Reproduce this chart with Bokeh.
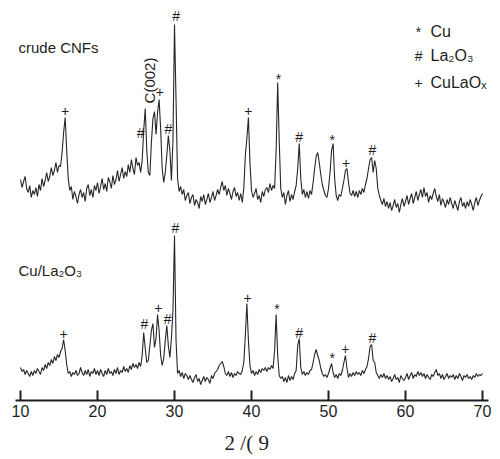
import numpy as np
from bokeh.plotting import figure
from bokeh.models import Range1d, Label, FixedTicker, ColumnDataSource
from bokeh.core.properties import value
from bokeh.embed import file_html
from bokeh.resources import INLINE

# 2-theta grid (degrees), 0.2 deg step from 10 to 70
theta_start = 10.0
theta_step = 0.2

# crude CNFs pattern (a.u.), one row = 2 degrees
crude_cnfs = [
    221, 213, 219, 224, 212, 208, 215, 203, 210, 206,
    213, 204, 216, 210, 222, 214, 220, 228, 219, 224,
    233, 225, 230, 238, 228, 235, 234, 248, 268, 283,
    250, 222, 210, 214, 201, 209, 204, 197, 206, 211,
    203, 208, 199, 212, 216, 205, 211, 203, 215, 210,
    218, 207, 214, 222, 211, 217, 209, 223, 219, 212,
    225, 216, 221, 230, 219, 226, 233, 222, 229, 224,
    236, 228, 241, 232, 226, 243, 235, 238, 228, 240,
    270, 292, 250, 228, 225, 258, 282, 289, 266, 288,
    301, 272, 232, 218, 228, 245, 265, 250, 220, 260,
    376, 300, 222, 209, 214, 206, 211, 200, 205, 208,
    197, 203, 206, 195, 201, 198, 192, 204, 199, 206,
    196, 201, 207, 198, 203, 209, 200, 205, 211, 206,
    213, 219, 210, 215, 205, 212, 207, 201, 209, 213,
    204, 208, 200, 207, 198, 212, 245, 262, 283, 238,
    210, 203, 207, 212, 201, 205, 198, 209, 204, 211,
    213, 208, 217, 210, 215, 212, 250, 318, 260, 212,
    203, 208, 196, 205, 210, 199, 206, 201, 209, 215,
    232, 257, 222, 206, 211, 203, 209, 202, 210, 206,
    218, 232, 244, 248, 238, 226, 216, 210, 205, 203,
    212, 228, 250, 257, 222, 205, 200, 206, 204, 212,
    220, 230, 232, 218, 207, 205, 210, 204, 209, 203,
    210, 206, 212, 208, 216, 222, 232, 241, 243, 228,
    240, 232, 212, 205, 200, 196, 202, 194, 199, 192,
    198, 190, 195, 201, 193, 197, 188, 196, 202, 194,
    199, 205, 196, 202, 207, 197, 203, 209, 200, 206,
    211, 203, 213, 204, 208, 198, 205, 201, 207, 212,
    204, 199, 206, 195, 202, 198, 193, 201, 196, 203,
    197, 192, 200, 195, 190, 199, 203, 194, 198, 192,
    199, 194, 201, 196, 190, 198, 203, 195, 200, 204,
    207,
]

# Cu/La2O3 pattern (a.u.)
cu_la2o3 = [
    33, 29, 31, 26, 30, 27, 24, 29, 25, 30,
    27, 32, 29, 26, 33, 30, 36, 32, 38, 35,
    41, 37, 44, 40, 46, 43, 49, 52, 61, 50,
    36, 27, 29, 24, 28, 26, 30, 25, 27, 33,
    28, 25, 30, 26, 31, 24, 29, 27, 32, 26,
    30, 25, 31, 27, 24, 30, 26, 32, 27, 29,
    25, 31, 27, 33, 26, 30, 28, 34, 29, 32,
    28, 35, 31, 37, 33, 36, 32, 38, 34, 45,
    68, 52, 38, 40, 55, 70, 77, 53, 62, 86,
    70, 45, 35, 42, 60, 75, 55, 43, 62, 90,
    165, 60, 27, 30, 24, 28, 22, 27, 25, 21,
    25, 21, 18, 23, 26, 19, 22, 16, 20, 24,
    19, 23, 21, 17, 25, 22, 27, 29, 31, 35,
    37, 39, 34, 27, 25, 29, 24, 28, 23, 27,
    25, 29, 27, 26, 30, 38, 65, 97, 60, 35,
    27, 30, 25, 29, 26, 31, 28, 32, 30, 33,
    29, 33, 31, 35, 32, 50, 86, 45, 25, 22,
    24, 19, 23, 18, 25, 20, 24, 21, 27, 30,
    55, 62, 33, 26, 29, 25, 28, 26, 30, 31,
    38, 46, 51, 45, 40, 32, 27, 24, 26, 23,
    27, 32, 37, 28, 23, 26, 22, 27, 25, 30,
    38, 45, 32, 23, 27, 24, 28, 25, 29, 26,
    28, 25, 30, 27, 31, 34, 42, 54, 56, 40,
    38, 28, 25, 22, 26, 23, 27, 22, 25, 21,
    24, 19, 22, 26, 21, 23, 18, 25, 22, 20,
    23, 27, 21, 25, 28, 22, 26, 24, 29, 25,
    28, 24, 27, 22, 26, 23, 21, 26, 24, 28,
    31, 25, 27, 22, 26, 21, 24, 27, 22, 25,
    23, 26, 21, 25, 22, 27, 24, 20, 25, 23,
    26, 22, 24, 21, 25, 23, 27, 24, 26, 25,
    27,
]

two_theta = np.round(theta_start + theta_step * np.arange(len(crude_cnfs)), 1)

# peak assignment marks (2theta, label height, symbol)
crude_mark_x = [15.8, 25.6, 28.1, 29.2, 30.2, 39.6, 43.5, 46.2, 50.5, 52.3, 55.7]
crude_mark_y = [290, 268, 309, 272, 385, 290, 322, 264, 261, 238, 251]
crude_mark_s = ["+", "#", "+", "#", "#", "+", "*", "#", "*", "+", "#"]

cu_mark_x = [15.6, 26.1, 27.9, 29.1, 30.1, 39.5, 43.3, 46.2, 50.5, 52.2, 55.7]
cu_mark_y = [67, 77, 93, 82, 173, 103, 92, 68, 43, 52, 63]
cu_mark_s = ["+", "#", "+", "#", "#", "+", "*", "#", "*", "+", "#"]

x_ticks = [10, 20, 30, 40, 50, 60, 70]

legend_symbols = ["*", "#", "+"]
legend_texts = ["Cu", "La\u2082O\u2083", "CuLaO\u2093"]
legend_y = [369, 345, 318]

INK = "#1e1e1e"
FONT = "Liberation Sans"

p = figure(width=500, height=459,
           x_range=Range1d(9.35, 70.78), y_range=Range1d(0, 392),
           output_backend="svg", toolbar_location=None,
           y_axis_location=None,
           min_border_left=15, min_border_right=12,
           min_border_top=8, min_border_bottom=59)
p.grid.visible = False
p.outline_line_color = None
p.background_fill_color = "white"
p.border_fill_color = "white"

ax = p.xaxis[0]
ax.ticker = FixedTicker(ticks=x_ticks)
ax.minor_tick_line_color = None
ax.major_tick_in = 10
ax.major_tick_out = 0
ax.axis_line_width = 2
ax.axis_line_color = INK
ax.major_tick_line_width = 2
ax.major_tick_line_color = INK
ax.major_label_text_font = FONT
ax.major_label_text_font_size = "16px"
ax.major_label_text_color = INK
ax.major_label_standoff = 4
ax.axis_label = "2  /(  9"
ax.axis_label_text_font = "Liberation Serif"
ax.axis_label_text_font_size = "21px"
ax.axis_label_text_font_style = "normal"
ax.axis_label_text_color = INK
ax.axis_label_standoff = 11

p.line(two_theta, crude_cnfs, line_color="#262626", line_width=1.1)
p.line(two_theta, cu_la2o3, line_color="#262626", line_width=1.1)

marks = ColumnDataSource(dict(x=crude_mark_x + cu_mark_x,
                              y=crude_mark_y + cu_mark_y,
                              s=crude_mark_s + cu_mark_s))
p.text(x="x", y="y", text="s", source=marks, text_font=value(FONT),
       text_font_size="14px", text_align="center", text_baseline="middle",
       text_color=INK)

p.add_layout(Label(x=26.7, y=320, text="C(002)", angle=np.pi / 2,
                   text_font=FONT, text_font_size="15px", text_color=INK,
                   text_align="center", text_baseline="middle"))
p.add_layout(Label(x=9.74, y=353, text="crude CNFs", text_font=FONT,
                   text_font_size="15px", text_color=INK,
                   text_align="left", text_baseline="middle"))
p.add_layout(Label(x=9.74, y=130, text="Cu/La\u2082O\u2083", text_font=FONT,
                   text_font_size="15px", text_color=INK,
                   text_align="left", text_baseline="middle"))

for sym, txt, ly in zip(legend_symbols, legend_texts, legend_y):
    p.add_layout(Label(x=61.7, y=ly, text=sym, text_font=FONT,
                       text_font_size="14px", text_color=INK,
                       text_align="center", text_baseline="middle"))
    p.add_layout(Label(x=63.25, y=ly, text=txt, text_font=FONT,
                       text_font_size="16px", text_color=INK,
                       text_align="left", text_baseline="middle"))

open("out.html", "w").write(file_html(p, INLINE))
